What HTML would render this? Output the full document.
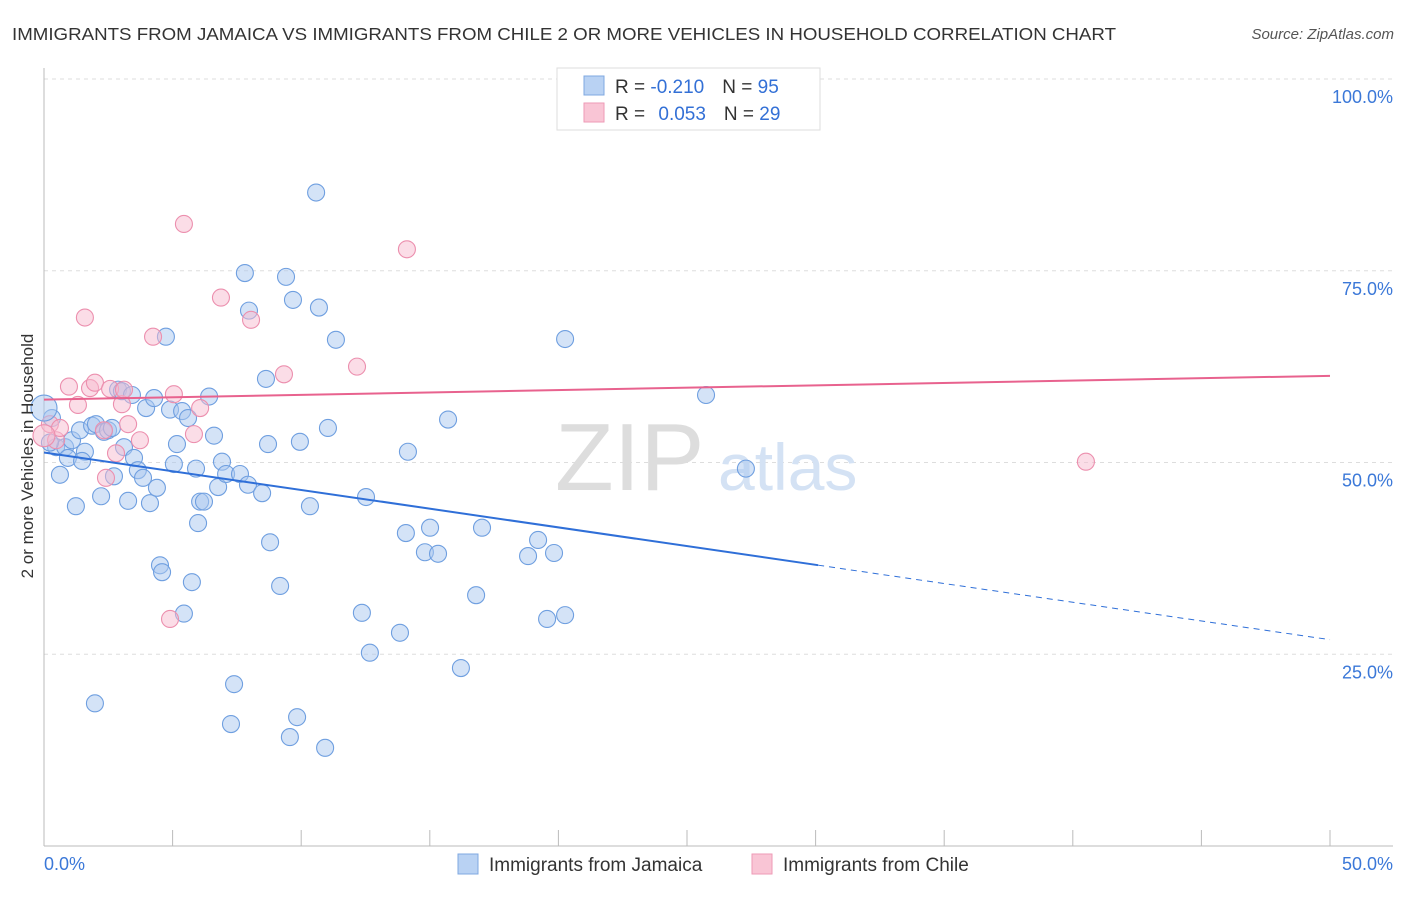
<!DOCTYPE html>
<html><head><meta charset="utf-8"><style>
body{margin:0;background:#fff;font-family:"Liberation Sans",sans-serif;}
svg text{font-family:"Liberation Sans",sans-serif;}
</style></head><body>
<svg id="chart" width="1406" height="892" viewBox="0 0 1406 892" xmlns="http://www.w3.org/2000/svg">
<text x="12" y="40" font-size="17.5" fill="#333" textLength="1104" lengthAdjust="spacingAndGlyphs">IMMIGRANTS FROM JAMAICA VS IMMIGRANTS FROM CHILE 2 OR MORE VEHICLES IN HOUSEHOLD CORRELATION CHART</text>
<text x="1394" y="39" font-size="15" fill="#555" font-style="italic" text-anchor="end">Source: ZipAtlas.com</text>
<g id="grid"></g>
<g><text x="555" y="490" font-size="96" fill="#ddd" font-family="Liberation Serif,serif">ZIP</text><text x="718" y="490" font-size="66" fill="#d4e2f4">atlas</text></g>
<g id="axes"></g>
<g id="pts"></g>
<g id="trends"></g>
<text transform="translate(33,456) rotate(-90)" font-size="17" fill="#333" text-anchor="middle">2 or more Vehicles in Household</text>
<g>
<rect x="557" y="68" width="263" height="62" fill="#fff" stroke="#ddd"/>
<rect x="584" y="76" width="20" height="19" fill="#b9d2f3" stroke="#7fa8e0"/>
<rect x="584" y="103" width="20" height="19" fill="#f9c5d5" stroke="#ee9ab6"/>
<text x="615" y="93" font-size="19" fill="#333">R = <tspan fill="#3370d6">-0.210</tspan><tspan dx="18">N = </tspan><tspan fill="#3370d6">95</tspan></text>
<text x="615" y="120" font-size="19" fill="#333">R = <tspan dx="8" fill="#3370d6">0.053</tspan><tspan dx="18">N = </tspan><tspan fill="#3370d6">29</tspan></text>
</g>
<g>
<rect x="458" y="854" width="20" height="20" fill="#b9d2f3" stroke="#7fa8e0"/>
<text x="489" y="871" font-size="19" fill="#333">Immigrants from Jamaica</text>
<rect x="752" y="854" width="20" height="20" fill="#f9c5d5" stroke="#ee9ab6"/>
<text x="783" y="871" font-size="19" fill="#333">Immigrants from Chile</text>
</g>
</svg>
<script>
const blueX=[0.31,0.47,0.62,0.82,0.93,1.09,1.24,1.40,1.59,1.48,1.87,2.02,2.22,1.98,2.33,2.49,2.64,2.88,2.72,3.03,3.11,3.27,3.42,3.50,3.65,3.85,3.97,4.12,4.28,4.39,4.51,4.59,4.74,4.90,5.05,5.17,5.37,5.44,5.60,5.75,5.91,5.99,6.07,6.22,6.42,6.61,6.77,6.92,7.08,7.39,7.27,7.62,7.81,7.97,7.93,8.48,8.63,8.71,8.79,9.18,9.41,9.68,9.56,9.84,9.95,10.34,10.58,10.69,10.93,11.04,11.35,12.36,12.52,12.67,13.84,14.07,14.15,14.81,15.01,15.32,15.71,16.21,16.80,17.03,18.82,19.21,19.56,19.83,20.26,20.26,25.74,27.29,0.23];
const blueY=[55.8,52.0,48.4,52.0,50.6,52.9,44.3,54.2,51.4,50.2,54.8,55.0,45.6,18.6,54.0,54.2,54.5,59.5,48.2,59.3,52.0,45.0,58.8,50.6,49.0,48.0,57.1,44.7,58.4,46.7,36.6,35.7,66.4,56.9,49.8,52.4,56.7,30.3,55.8,34.4,49.2,42.1,44.9,44.9,58.6,53.5,46.8,50.1,48.5,21.1,15.9,48.5,74.7,69.8,47.1,46.0,60.9,52.4,39.6,33.9,74.2,71.2,14.2,16.8,52.7,44.3,85.2,70.2,12.8,54.5,66.0,30.4,45.5,25.2,27.8,40.8,51.4,38.3,41.5,38.1,55.6,23.2,32.7,41.5,37.8,39.9,29.6,38.2,66.1,30.1,58.8,49.2,52.6];
const pinkX=[0.23,0.47,0.62,0.97,1.32,1.59,1.79,1.98,2.33,2.57,2.80,3.03,3.11,3.27,3.73,2.41,4.24,4.90,5.05,5.44,5.83,6.07,6.88,8.05,9.33,12.17,14.11,40.51];
const pinkY=[55.0,52.9,54.5,59.9,57.5,68.9,59.7,60.4,54.2,59.6,51.2,57.6,59.5,55.0,52.9,48.0,66.4,29.6,58.9,81.1,53.7,57.1,71.5,68.6,61.5,62.5,77.8,50.1];
const bigBlue=[0,57.1], bigPink=[0,53.5];
const blueTrend=[51.3,-0.488];
const pinkTrend=[58.2,0.062];
const yTicks=[25,50,75,100];
const xTickVals=[0,5,10,15,20,25,30,35,40,45,50];
const NS="http://www.w3.org/2000/svg";
const sx=v=>44+v*25.72, sy=v=>846-v*7.67;
function mk(tag,attrs,parent){const e=document.createElementNS(NS,tag);for(const k in attrs)e.setAttribute(k,attrs[k]);parent.appendChild(e);return e;}
const grid=document.getElementById('grid'),axes=document.getElementById('axes'),pts=document.getElementById('pts'),tr=document.getElementById('trends');
yTicks.forEach(v=>{
 const l=mk('line',{x1:44,x2:1393,y1:sy(v),y2:sy(v),stroke:'#ddd','stroke-dasharray':'4,4'},grid);
 
 
 const t=mk('text',{x:1393,y:sy(v)+24,'font-size':18,fill:'#3b78d8','text-anchor':'end'},grid);
 t.textContent=v.toFixed(1)+'%';
 
 
});
const ax=mk('line',{x1:44,x2:1393,y1:846,y2:846,stroke:'#bbb'},axes);


const ay=mk('line',{x1:44,x2:44,y1:68,y2:846,stroke:'#bbb'},axes);


xTickVals.forEach(v=>{
 const l=mk('line',{x1:sx(v),x2:sx(v),y1:830,y2:846,stroke:'#bbb'},axes);
 
 
});
[[0,'start',44],[50,'end',1393]].forEach(([v,a,x])=>{
 const t=mk('text',{x:x,y:870,'font-size':18,fill:'#3b78d8','text-anchor':a},axes);
 t.textContent=v.toFixed(1)+'%';
 
 
});
function dot(x,y,r,fill,stroke,name){
 const c=mk('circle',{cx:sx(x),cy:sy(y),r:r,fill:fill,'fill-opacity':0.5,stroke:stroke,'stroke-width':1.1},pts);
 
 
}
blueX.forEach((x,i)=>dot(x,blueY[i],8.5,'#aac8f0','#6f9fe0','jamaica-point'));
pinkX.forEach((x,i)=>dot(x,pinkY[i],8.5,'#f7bccf','#ec8fae','chile-point'));
dot(bigBlue[0],bigBlue[1],13,'#aac8f0','#6f9fe0','jamaica-point-large');
dot(bigPink[0],bigPink[1],11,'#f7bccf','#ec8fae','chile-point-large');
const bl=mk('line',{x1:sx(0),y1:sy(blueTrend[0]),x2:sx(30.1),y2:sy(blueTrend[0]+blueTrend[1]*30.1),stroke:'#2f6fd8','stroke-width':2},tr);


const bd=mk('line',{x1:sx(30.1),y1:sy(blueTrend[0]+blueTrend[1]*30.1),x2:sx(50),y2:sy(blueTrend[0]+blueTrend[1]*50),stroke:'#2f6fd8','stroke-width':1,'stroke-dasharray':'6,5'},tr);


const pl=mk('line',{x1:sx(0),y1:sy(pinkTrend[0]),x2:sx(50),y2:sy(pinkTrend[0]+pinkTrend[1]*50),stroke:'#e8628e','stroke-width':2},tr);


</script>
</body></html>
